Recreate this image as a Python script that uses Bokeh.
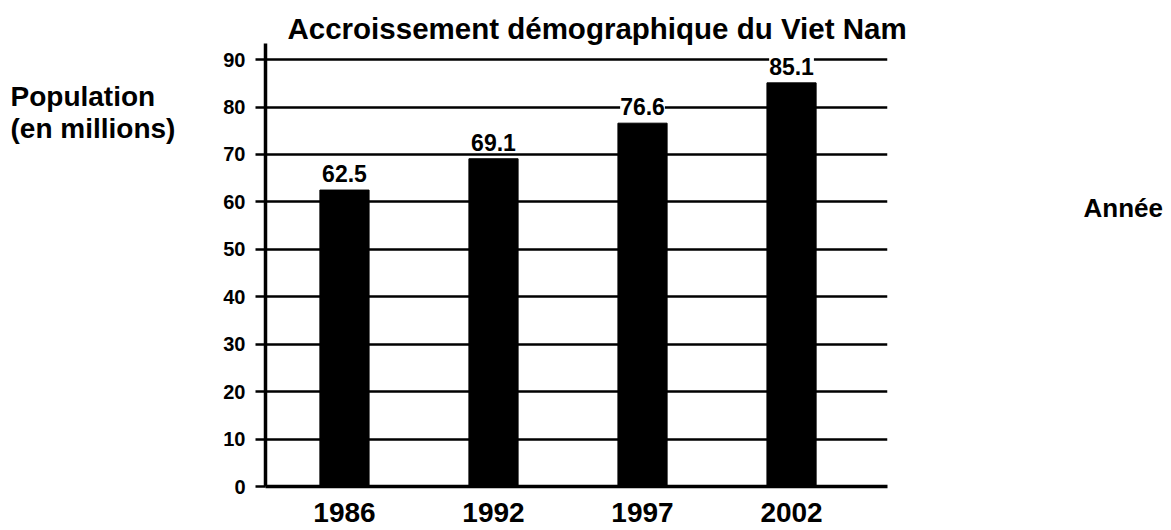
from bokeh.plotting import figure
from bokeh.layouts import row
from bokeh.models import Range1d, ColumnDataSource, LabelSet, FixedTicker
from bokeh.core.properties import value
from bokeh.embed import file_html
from bokeh.resources import INLINE

# Data
years = ["1986", "1992", "1997", "2002"]
population = [62.5, 69.1, 76.6, 85.1]
y_ticks = [0, 10, 20, 30, 40, 50, 60, 70, 80, 90]
y_title = ["Population", "(en millions)"]
x_title = "Année"

FONT = "Liberation Sans"
H = 530
TOP = 43
BOTTOM = 44
idx = list(range(len(years)))
source = ColumnDataSource(dict(x=idx, top=population, txt=[f"{v:.1f}" for v in population]))

yr = Range1d(0, 93.4)

p = figure(width=880, height=H, output_backend="svg", toolbar_location=None,
           x_range=Range1d(-0.53, 3.644), y_range=yr,
           min_border_left=65, min_border_right=193, min_border_top=TOP, min_border_bottom=BOTTOM)

p.vbar(x="x", top="top", bottom=0, width=0.33, source=source, color="black")

p.title.text = "Accroissement démographique du Viet Nam"
p.title.text_font = FONT
p.title.text_font_size = "29.5px"
p.title.text_font_style = "bold"
p.title.align = "left"
p.title.offset = 22
p.title.standoff = -2
p.title.text_color = "black"

p.outline_line_color = None
p.xgrid.grid_line_color = None
p.ygrid.grid_line_color = "black"
p.ygrid.grid_line_width = 2.5
p.ygrid.ticker = FixedTicker(ticks=y_ticks)

p.yaxis.ticker = FixedTicker(ticks=y_ticks)
p.yaxis.axis_line_width = 3.5
p.yaxis.axis_line_color = "black"
p.yaxis.major_tick_line_width = 2.5
p.yaxis.major_tick_out = 10
p.yaxis.major_tick_in = 0
p.yaxis.minor_tick_line_color = None
p.yaxis.major_label_standoff = 10
p.yaxis.major_label_text_font = FONT
p.yaxis.major_label_text_font_style = "bold"
p.yaxis.major_label_text_font_size = "20px"
p.yaxis.major_label_text_color = "black"

p.xaxis.ticker = FixedTicker(ticks=idx)
p.xaxis.major_label_overrides = {i: y for i, y in zip(idx, years)}
p.xaxis.axis_line_width = 3.5
p.xaxis.axis_line_color = "black"
p.xaxis.major_tick_line_color = None
p.xaxis.minor_tick_line_color = None
p.xaxis.major_label_standoff = 10
p.xaxis.major_label_text_font = FONT
p.xaxis.major_label_text_font_style = "bold"
p.xaxis.major_label_text_font_size = "28px"
p.xaxis.major_label_text_color = "black"

labels = LabelSet(x="x", y="top", text="txt", source=source, y_offset=8,
                  text_align="center", text_baseline="alphabetic",
                  text_font=value(FONT), text_font_size=value("23px"),
                  text_font_style="bold", text_color="black",
                  background_fill_color="white")
p.add_layout(labels)


def side_fig(width):
    f = figure(width=width, height=H, output_backend="svg", toolbar_location=None,
               x_range=Range1d(0, width), y_range=yr,
               min_border_left=0, min_border_right=0, min_border_top=TOP, min_border_bottom=BOTTOM)
    f.axis.visible = False
    f.grid.visible = False
    f.outline_line_color = None
    return f


left = side_fig(200)
left.text(x=[10, 10], y=[82.3, 75.4], text=y_title, text_font=value(FONT),
          text_font_size="28px", text_font_style="bold", text_color="black",
          text_baseline="alphabetic")

right = side_fig(88)
right.text(x=[3], y=[58.7], text=[x_title], text_font=value(FONT),
           text_font_size="26px", text_font_style="bold", text_color="black",
           text_baseline="alphabetic")

layout = row(left, p, right)
open("out.html", "w").write(file_html(layout, INLINE))
